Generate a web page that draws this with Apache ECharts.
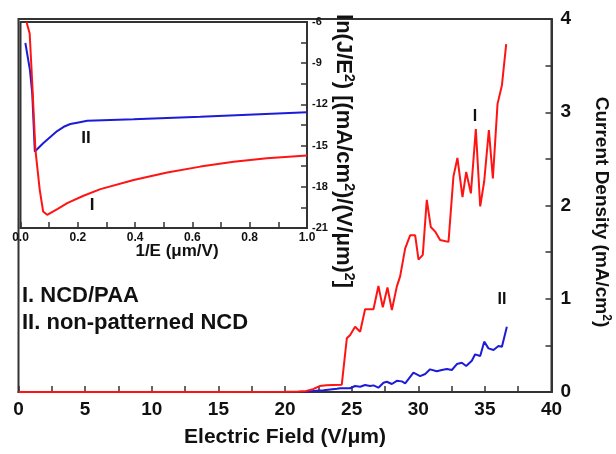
<!DOCTYPE html>
<html>
<head>
<meta charset="utf-8">
<script src="https://cdn.jsdelivr.net/npm/echarts@6/dist/echarts.min.js"></script>
<style>
html,body{margin:0;padding:0;background:#fff;}
#c{width:616px;height:454px;}
</style>
</head>
<body>
<div id="c"></div>
<script>
// Main plot: Electric Field (V/um) vs Current Density (mA/cm2)
var redE = [0, 5, 10, 15, 20, 21, 21.6, 22.1, 22.6, 23.1, 23.6, 24.26, 24.64, 24.89, 25.26, 25.64, 26.01, 26.64, 27.01, 27.34, 27.69, 28.02, 28.39, 28.64, 29.02, 29.39, 29.77, 30.02, 30.34, 30.64, 30.94, 31.27, 31.64, 32.27, 32.64, 32.94, 33.32, 33.6, 33.95, 34.32, 34.65, 34.95, 35.3, 35.6, 35.95, 36.28, 36.6];
var redJ = [0, 0, 0, 0, 0.003, 0.006, 0.012, 0.03, 0.064, 0.072, 0.075, 0.078, 0.576, 0.611, 0.70, 0.647, 0.887, 0.887, 1.137, 0.908, 1.12, 0.879, 1.13, 1.24, 1.54, 1.68, 1.68, 1.42, 1.47, 2.06, 1.77, 1.72, 1.63, 1.61, 2.31, 2.51, 2.09, 2.36, 2.13, 2.82, 1.99, 2.26, 2.81, 2.29, 3.09, 3.29, 3.73];
var blueE = [21.5, 22.1, 22.9, 23.9, 24.14, 24.89, 25.26, 25.64, 26.01, 26.39, 26.64, 27.01, 27.39, 27.64, 28.02, 28.39, 28.77, 29.02, 29.64, 30.14, 30.52, 30.89, 31.39, 31.77, 32.15, 32.52, 32.9, 33.27, 33.6, 34.02, 34.27, 34.65, 34.95, 35.27, 35.65, 36.02, 36.28, 36.65];
var blueJ = [0, 0.01, 0.02, 0.035, 0.04, 0.04, 0.064, 0.057, 0.075, 0.064, 0.071, 0.046, 0.10, 0.11, 0.086, 0.12, 0.114, 0.093, 0.207, 0.17, 0.193, 0.243, 0.222, 0.236, 0.247, 0.236, 0.30, 0.314, 0.279, 0.336, 0.404, 0.386, 0.54, 0.468, 0.45, 0.493, 0.486, 0.70];

// Inset: 1/E (um/V) vs ln(J/E^2)
var invRedX = [0.021, 0.032, 0.041, 0.052, 0.067, 0.079, 0.093, 0.13, 0.163, 0.22, 0.279, 0.395, 0.512, 0.628, 0.744, 0.86, 1.0];
var invRedY = [-6, -6.84, -10.47, -15.3, -18.2, -19.8, -20.04, -19.6, -19.19, -18.65, -18.17, -17.5, -16.96, -16.53, -16.17, -15.92, -15.72];
var invBlueX = [0.017, 0.033, 0.041, 0.05, 0.058, 0.081, 0.105, 0.128, 0.151, 0.174, 0.198, 0.233, 0.395, 0.628, 1.0];
var invBlueY = [-7.53, -9.5, -11.2, -15.44, -15.27, -14.79, -14.35, -13.94, -13.63, -13.43, -13.33, -13.19, -13.09, -12.9, -12.58];

var mainXTicks = [0, 5, 10, 15, 20, 25, 30, 35, 40];
var mainYTicks = [0, 1, 2, 3, 4];
var insetXTicks = [0.0, 0.2, 0.4, 0.6, 0.8, 1.0];
var insetYTicks = [-21, -18, -15, -12, -9, -6];

var legendLines = ['I. NCD/PAA', 'II. non-patterned NCD'];

function zip(a, b) { return a.map(function (v, i) { return [v, b[i]]; }); }

var RED = '#ff1414';
var BLUE = '#1c1cd8';
var AX = '#333';
var FONT = '"Liberation Sans", Arial, sans-serif';

var chart = echarts.init(document.getElementById('c'), null, {renderer: 'canvas'});

function axisCommon(fs) {
  return {
    axisLine: {show: true, onZero: false, lineStyle: {color: AX, width: 2}},
    axisTick: {show: true, inside: true, length: 6, lineStyle: {color: AX, width: 1.5}},
    splitLine: {show: false},
    axisLabel: {color: '#111', fontWeight: 'bold', fontSize: fs, fontFamily: FONT}
  };
}

var mxa = axisCommon(19);
mxa.axisLabel.margin = 8;
mxa.axisLabel.formatter = function (v) { return mainXTicks.indexOf(v) >= 0 ? String(v) : ''; };
var mya = axisCommon(19);
mya.axisLabel.margin = 9;
mya.axisLabel.formatter = function (v) { return mainYTicks.indexOf(v) >= 0 ? String(v) : ''; };
var ixa = axisCommon(12);
ixa.axisLabel.margin = 4;
ixa.axisLabel.formatter = function (v) {
  var r = Math.round(v * 10) / 10;
  return insetXTicks.indexOf(r) >= 0 ? r.toFixed(1) : '';
};
var iya = axisCommon(11);
iya.axisLabel.margin = 5;
iya.axisLabel.formatter = function (v) {
  var r = Math.round(v * 2) / 2;
  return insetYTicks.indexOf(r) >= 0 ? String(r) : '';
};

var option = {
  backgroundColor: '#fff',
  animation: false,
  grid: [
    {left: 18.5, right: 64.5, top: 19, bottom: 62, show: true, borderColor: AX, borderWidth: 2, backgroundColor: 'transparent'},
    {left: 20.5, right: 309, top: 22, bottom: 226, show: true, borderColor: AX, borderWidth: 2, backgroundColor: '#fff', z: 5}
  ],
  xAxis: [
    Object.assign({gridIndex: 0, type: 'value', min: 0, max: 40, interval: 2.5, position: 'bottom'}, mxa),
    Object.assign({gridIndex: 1, type: 'value', min: 0, max: 1, interval: 0.1, position: 'bottom', z: 6}, ixa)
  ],
  yAxis: [
    Object.assign({gridIndex: 0, type: 'value', min: 0, max: 4, interval: 0.5, position: 'right'}, mya),
    Object.assign({gridIndex: 1, type: 'value', min: -21, max: -6, interval: 1.5, position: 'right', z: 6}, iya)
  ],
  series: [
    {type: 'line', xAxisIndex: 0, yAxisIndex: 0, data: zip(blueE, blueJ), showSymbol: false, symbol: 'none',
     lineStyle: {color: BLUE, width: 2}, z: 3},
    {type: 'line', xAxisIndex: 0, yAxisIndex: 0, data: zip(redE, redJ), showSymbol: false, symbol: 'none',
     lineStyle: {color: RED, width: 2}, z: 4},
    {type: 'line', xAxisIndex: 1, yAxisIndex: 1, data: zip(invBlueX, invBlueY), showSymbol: false, symbol: 'none',
     lineStyle: {color: BLUE, width: 2}, z: 7, clip: true},
    {type: 'line', xAxisIndex: 1, yAxisIndex: 1, data: zip(invRedX, invRedY), showSymbol: false, symbol: 'none',
     lineStyle: {color: RED, width: 2}, z: 8, clip: true}
  ],
  graphic: [
    {type: 'text', x: 285, y: 437, z: 10, style: {text: 'Electric Field (V/\u03bcm)', fill: '#111', font: 'bold 21px ' + FONT, textAlign: 'center', textVerticalAlign: 'middle'}},
    {type: 'text', x: 177, y: 251, z: 10, style: {text: '1/E (\u03bcm/V)', fill: '#111', font: 'bold 17px ' + FONT, textAlign: 'center', textVerticalAlign: 'middle'}},
    {type: 'text', x: 601, y: 212, rotation: -Math.PI / 2, z: 10, style: {
      text: '{t|Current Density (mA/cm}{s|2}{t|)}', textAlign: 'center', textVerticalAlign: 'middle',
      rich: {
        t: {fontSize: 19, fontWeight: 'bold', fontFamily: FONT, fill: '#111', lineHeight: 22, verticalAlign: 'middle'},
        s: {fontSize: 12, fontWeight: 'bold', fontFamily: FONT, fill: '#111', lineHeight: 12, verticalAlign: 'top'}
      }}},
    {type: 'text', x: 343, y: 151, rotation: -Math.PI / 2, z: 10, style: {
      text: '{t|ln(J/E}{s|2}{t|) [(mA/cm}{s|2}{t|)/(V/\u03bcm)}{s|2}{t|]}', textAlign: 'center', textVerticalAlign: 'middle',
      rich: {
        t: {fontSize: 22, fontWeight: 'bold', fontFamily: FONT, fill: '#111', lineHeight: 26, verticalAlign: 'middle'},
        s: {fontSize: 14, fontWeight: 'bold', fontFamily: FONT, fill: '#111', lineHeight: 14, verticalAlign: 'top'}
      }}},
    {type: 'text', x: 22, y: 296, z: 10, style: {text: legendLines[0], fill: '#111', font: 'bold 22px ' + FONT, textAlign: 'left', textVerticalAlign: 'middle'}},
    {type: 'text', x: 22, y: 323, z: 10, style: {text: legendLines[1], fill: '#111', font: 'bold 22px ' + FONT, textAlign: 'left', textVerticalAlign: 'middle'}},
    {type: 'text', x: 475, y: 117, z: 10, style: {text: 'I', fill: '#111', font: 'bold 16px ' + FONT, textAlign: 'center', textVerticalAlign: 'middle'}},
    {type: 'text', x: 502, y: 300, z: 10, style: {text: 'II', fill: '#111', font: 'bold 16px ' + FONT, textAlign: 'center', textVerticalAlign: 'middle'}},
    {type: 'text', x: 86, y: 138, z: 10, style: {text: 'II', fill: '#111', font: 'bold 17px ' + FONT, textAlign: 'center', textVerticalAlign: 'middle'}},
    {type: 'text', x: 92, y: 205, z: 10, style: {text: 'I', fill: '#111', font: 'bold 17px ' + FONT, textAlign: 'center', textVerticalAlign: 'middle'}}
  ]
};
chart.setOption(option);
</script>
</body>
</html>
